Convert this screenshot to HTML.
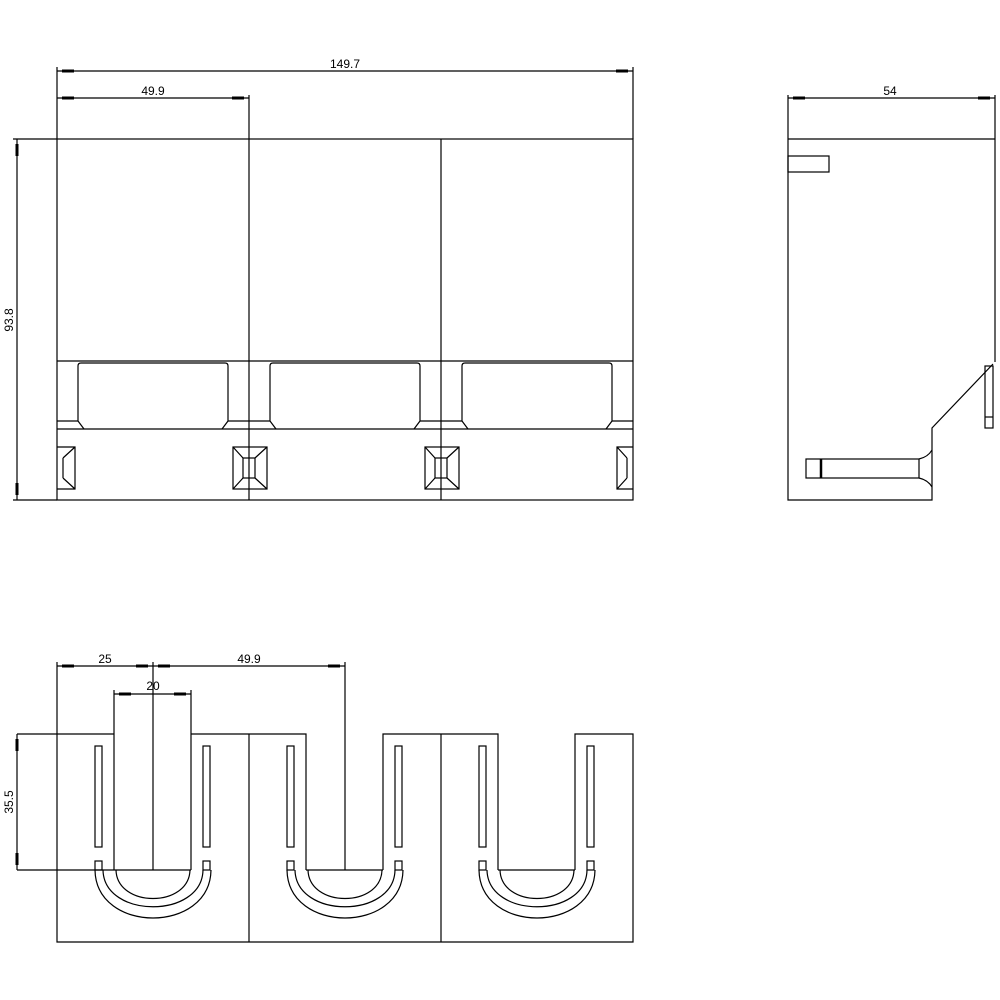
<!DOCTYPE html>
<html><head><meta charset="utf-8"><style>html,body{margin:0;padding:0;background:#fff}svg{display:block}</style></head>
<body>
<svg width="1000" height="1000" viewBox="0 0 1000 1000" xmlns="http://www.w3.org/2000/svg" font-family="Liberation Sans, sans-serif" font-size="12">
<defs>
<g id="win">
<path d="M78,421 V366 Q78,363 81,363 H225 Q228,363 228,366 V421 L222,429 M78,421 L84,429"/>
</g>
<g id="sq">
<rect x="233" y="447" width="34" height="42"/>
<rect x="243" y="458" width="12" height="20"/>
<path d="M233,447 L243,458 M267,447 L255,458 M233,489 L243,478 M267,489 L255,478"/>
</g>
<g id="u">
<rect x="95" y="746" width="7" height="101"/>
<rect x="203" y="746" width="7" height="101"/>
<rect x="95" y="861" width="7" height="9"/>
<rect x="203" y="861" width="7" height="9"/>
<path d="M116,870 C117,908 189,908 190,870"/>
<path d="M103,870 C104,919 202,919 203,870"/>
<path d="M95,870 C96,934 210,934 211,870"/>
</g>
</defs>
<g stroke="#000" stroke-width="1.2" fill="none">
<rect x="57" y="139" width="576" height="361"/>
<path d="M13,139 H57 M13,500 H57 M249,95 V500 M441,139 V500 M57,67 V139 M633,67 V139 M57,361 H633 M57,429 H633 M57,421 H78 M228,421 H270 M420,421 H462 M612,421 H633"/>
<use href="#win"/><use href="#win" x="192"/><use href="#win" x="384"/>
<use href="#sq"/><use href="#sq" x="192"/>
<path d="M57,447 H75 V489 H57 M63,458 V478 M75,447 L63,458 M75,489 L63,478"/>
<path d="M633,447 H617 V489 H633 M627,458 V478 M617,447 L627,458 M617,489 L627,478"/>
<path d="M57,71 H633 M57,98 H249 M17,139 V500"/>
<path d="M788,95 V500 H932 V428 L993,364 M995,95 V362 M788,139 H995"/>
<rect x="788" y="156" width="41" height="16"/>
<rect x="985" y="366" width="8" height="62"/>
<path d="M985,417 H993"/>
<rect x="806" y="459" width="113" height="19"/>
<path d="M821,459 V478" stroke-width="2.5"/>
<path d="M919,459 Q928,457 932,450 M919,478 Q928,480 932,487"/>
<path d="M788,98 H995"/>
<path d="M57,662 V942 H633 V734 H575 V870 M498,870 V734 H383 V870 M306,870 V734 H191 V690 M114,690 V734 H57 M249,734 V942 M441,734 V942 M114,690 V870 M191,690 V870 M153,662 V870 M345,662 V870 M17,734 H57 M17,870 H191 M306,870 H383 M498,870 H575"/>
<use href="#u"/><use href="#u" x="192"/><use href="#u" x="384"/>
<path d="M57,666 H345 M114,694 H191 M17,734 V870"/>
</g>
<g fill="#000">
<rect x="62" y="69.5" width="12" height="3"/><rect x="616" y="69.5" width="12" height="3"/>
<rect x="62" y="96.5" width="12" height="3"/><rect x="232" y="96.5" width="12" height="3"/>
<rect x="15.5" y="144" width="3" height="12"/><rect x="15.5" y="483" width="3" height="12"/>
<rect x="793" y="96.5" width="12" height="3"/><rect x="978" y="96.5" width="12" height="3"/>
<rect x="62" y="664.5" width="12" height="3"/><rect x="136" y="664.5" width="12" height="3"/>
<rect x="158" y="664.5" width="12" height="3"/><rect x="328" y="664.5" width="12" height="3"/>
<rect x="119" y="692.5" width="12" height="3"/><rect x="174" y="692.5" width="12" height="3"/>
<rect x="15.5" y="739" width="3" height="12"/><rect x="15.5" y="853" width="3" height="12"/>
</g>
<g fill="#000" text-anchor="middle">
<text x="345" y="68">149.7</text>
<text x="153" y="95">49.9</text>
<text x="890" y="95">54</text>
<text x="105" y="663">25</text>
<text x="249" y="663">49.9</text>
<text x="153" y="690">20</text>
<text transform="translate(13,320) rotate(-90)">93.8</text>
<text transform="translate(13,802) rotate(-90)">35.5</text>
</g>
</svg>
</body></html>
